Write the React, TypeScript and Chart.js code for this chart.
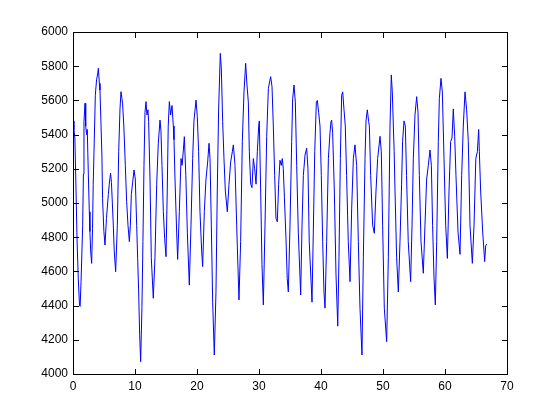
import React, { useEffect, useRef } from "react";
import { Chart, registerables } from "chart.js";

Chart.register(...registerables);

const xValues = [
  0.0, 0.15, 0.3, 0.45, 0.65, 0.85, 1.05, 1.15, 1.3, 1.56, 1.68, 1.77, 1.94, 2.05, 2.2, 2.3, 2.47, 2.63, 2.73, 2.85,
  3.01, 3.15, 3.26, 3.42, 3.6, 3.8, 4.0, 4.09, 4.25, 4.35, 4.5, 4.66, 4.77, 4.98, 5.16, 5.4, 5.7, 5.85, 6.06, 6.2,
  6.5, 6.65, 6.88, 7.15, 7.37, 7.58, 7.74, 7.9, 8.0, 8.2, 8.44, 8.65, 8.87, 9.09, 9.25, 9.41, 9.62, 9.84, 10.05, 10.27,
  10.43, 10.59, 10.75, 10.91, 11.12, 11.28, 11.45, 11.61, 11.77, 11.93, 12.09, 12.2, 12.42, 12.63, 12.95, 13.22, 13.5, 13.76, 14.03, 14.19,
  14.35, 14.57, 14.78, 15.0, 15.2, 15.36, 15.54, 15.75, 15.97, 16.18, 16.29, 16.45, 16.72, 16.88, 17.15, 17.42, 17.6, 17.8, 17.96, 18.2,
  18.44, 18.76, 19.03, 19.3, 19.51, 19.84, 20.05, 20.26, 20.48, 20.75, 20.91, 21.18, 21.45, 21.72, 21.94, 22.1, 22.31, 22.53, 22.79, 23.06,
  23.27, 23.49, 23.76, 23.92, 24.14, 24.35, 24.57, 24.89, 25.16, 25.43, 25.7, 25.86, 26.13, 26.4, 26.77, 27.04, 27.31, 27.58, 27.85, 28.06,
  28.28, 28.44, 28.66, 28.87, 29.09, 29.3, 29.52, 29.73, 29.95, 30.05, 30.27, 30.48, 30.7, 30.97, 31.24, 31.51, 31.88, 32.1, 32.31, 32.53,
  32.74, 32.95, 33.17, 33.38, 33.6, 33.76, 33.92, 34.1, 34.35, 34.55, 34.73, 35.0, 35.27, 35.43, 35.65, 35.86, 36.08, 36.34, 36.72, 36.94,
  37.15, 37.42, 37.69, 37.9, 38.1, 38.55, 38.76, 38.99, 39.25, 39.41, 39.62, 39.84, 40.05, 40.27, 40.48, 40.65, 40.91, 41.19, 41.45, 41.61,
  41.72, 41.88, 42.15, 42.42, 42.7, 42.9, 43.12, 43.33, 43.5, 43.71, 43.92, 44.13, 44.4, 44.68, 44.95, 45.22, 45.48, 45.75, 46.02, 46.29,
  46.61, 46.83, 47.1, 47.26, 47.47, 47.69, 47.8, 48.01, 48.33, 48.6, 48.87, 49.14, 49.52, 49.73, 49.94, 50.21, 50.59, 50.86, 51.13, 51.34,
  51.5, 51.67, 51.8, 51.94, 52.2, 52.47, 52.74, 53.0, 53.16, 53.39, 53.6, 53.8, 54.07, 54.46, 54.68, 54.89, 55.16, 55.43, 55.65, 55.86,
  56.13, 56.5, 56.77, 57.04, 57.31, 57.58, 57.8, 58.0, 58.23, 58.44, 58.66, 58.92, 59.09, 59.35, 59.57, 59.84, 60.11, 60.38, 60.65, 60.91,
  61.13, 61.34, 61.56, 61.77, 62.1, 62.42, 62.69, 62.95, 63.23, 63.49, 63.76, 64.03, 64.41, 64.68, 64.97, 65.22, 65.43, 65.54, 65.75, 66.08,
  66.4, 66.56, 66.72,
];

const yValues = [
  5480, 5430, 5380, 5140, 4790, 4560, 4400, 4395, 4540, 4870, 5170, 5476, 5583, 5450, 5400, 5430, 5170, 4949, 4833, 4720,
  4647, 4850, 5110, 5350, 5630, 5720, 5760, 5788, 5700, 5660, 5480, 5280, 5025, 4833, 4754, 4910, 5050, 5110, 5174, 5120,
  4870, 4720, 4598, 4870, 5300, 5550, 5651, 5610, 5580, 5450, 5220, 5010, 4870, 4774, 4870, 5050, 5120, 5193, 5140, 4870,
  4676, 4480, 4230, 4072, 4390, 4775, 5220, 5530, 5593, 5515, 5545, 5476, 5140, 4680, 4443, 4680, 5110, 5350, 5485, 5420,
  5220, 4950, 4794, 4686, 5070, 5450, 5593, 5515, 5570, 5450, 5370, 5140, 4830, 4670, 4950, 5260, 5220, 5310, 5388, 5160,
  4830, 4520, 4870, 5260, 5480, 5602, 5505, 5300, 4950, 4720, 4628, 4950, 5140, 5240, 5349, 5260, 4870, 4420, 4111, 4480,
  5070, 5550, 5875, 5790, 5476, 5260, 5070, 4949, 5110, 5240, 5300, 5340, 5220, 4870, 4433, 4775, 5360, 5650, 5817, 5690,
  5590, 5300, 5110, 5090, 5260, 5200, 5110, 5300, 5450, 5480, 5070, 4640, 4404, 4870, 5390, 5670, 5739, 5680, 5450, 5160,
  4910, 4890, 5110, 5250, 5220, 5260, 5200, 5030, 4794, 4560, 4480, 4870, 5360, 5610, 5690, 5590, 5220, 4830, 4462, 4870,
  5160, 5280, 5320, 5200, 4775, 4420, 4830, 5300, 5590, 5600, 5530, 5450, 5160, 4775, 4480, 4385, 4775, 5260, 5410, 5476,
  5485, 5410, 5070, 4580, 4280, 4680, 5260, 5630, 5650, 5545, 5450, 5160, 4775, 4540, 4970, 5260, 5340, 5220, 4775, 4385,
  4111, 4680, 5260, 5480, 5545, 5476, 5450, 5160, 4870, 4823, 5070, 5260, 5390, 5300, 4870, 4385, 4189, 4680, 5450, 5749,
  5650, 5450, 5300, 5070, 4680, 4480, 4775, 5110, 5360, 5480, 5450, 5160, 4775, 4540, 4870, 5260, 5515, 5622, 5530, 5160,
  4775, 4589, 4870, 5140, 5220, 5310, 5220, 4870, 4560, 4404, 4775, 5360, 5610, 5729, 5650, 5260, 4870, 4676, 5070, 5360,
  5380, 5550, 5390, 5160, 4830, 4700, 5160, 5450, 5650, 5545, 5360, 4870, 4647, 4870, 5260, 5300, 5430, 5300, 5070, 4830,
  4657, 4750, 4760,
];

const xTicks = [0, 10, 20, 30, 40, 50, 60, 70];
const yTicks = [4000, 4200, 4400, 4600, 4800, 5000, 5200, 5400, 5600, 5800, 6000];

const FONT = { family: "'Liberation Sans', Arial, Helvetica, sans-serif", size: 12 };

function drawBox(chart: any) {
  const ctx = chart.ctx;
  const a = chart.chartArea;
  const sx = chart.scales.x;
  const sy = chart.scales.y;
  const L = Math.round(a.left);
  const R = Math.round(a.right);
  const T = Math.round(a.top);
  const B = Math.round(a.bottom);
  const len = 5;
  ctx.save();
  ctx.globalAlpha = 1;
  ctx.globalCompositeOperation = "source-over";
  ctx.fillStyle = "#000000";
  // frame
  ctx.fillRect(L, T, R - L + 1, 1);
  ctx.fillRect(L, B, R - L + 1, 1);
  ctx.fillRect(L, T, 1, B - T + 1);
  ctx.fillRect(R, T, 1, B - T + 1);
  // inward ticks
  for (const v of xTicks) {
    const p = Math.round(sx.getPixelForValue(v));
    ctx.fillRect(p, B - len, 1, len);
    ctx.fillRect(p, T + 1, 1, len);
  }
  for (const v of yTicks) {
    const p = Math.round(sy.getPixelForValue(v));
    ctx.fillRect(L + 1, p, len, 1);
    ctx.fillRect(R - len, p, len, 1);
  }
  ctx.restore();
}

const boxTicks = {
  id: "boxTicks",
  afterDraw: (chart: any) => {
    drawBox(chart);
  },
};

export default function App() {
  const canvasRef = useRef<HTMLCanvasElement | null>(null);

  useEffect(() => {
    if (!canvasRef.current) return;
    const data = xValues.map((x, i) => ({ x, y: yValues[i] }));
    const chart = new Chart(canvasRef.current, {
      type: "line",
      data: {
        datasets: [
          { data, borderColor: "#0000ff", borderWidth: 1, pointRadius: 0, tension: 0, fill: false },
        ],
      },
      options: {
        animation: false,
        responsive: false,
        devicePixelRatio: 1,
        layout: { padding: { top: 32, right: 53, left: 0, bottom: 0 } },
        plugins: { legend: { display: false }, tooltip: { enabled: false } },
        scales: {
          x: {
            type: "linear",
            min: 0,
            max: 70,
            grid: { display: false, drawTicks: false },
            border: { display: false },
            afterBuildTicks: (s: any) => {
              s.ticks = xTicks.map((v) => ({ value: v }));
            },
            afterFit: (s: any) => {
              s.height = 46;
            },
            ticks: {
              color: "#000000",
              font: FONT,
              padding: 5,
              maxRotation: 0,
              autoSkip: false,
              callback: (v: any) => String(v),
            },
          },
          y: {
            type: "linear",
            min: 4000,
            max: 6000,
            grid: { display: false, drawTicks: false },
            border: { display: false },
            afterBuildTicks: (s: any) => {
              s.ticks = yTicks.map((v) => ({ value: v }));
            },
            afterFit: (s: any) => {
              s.width = 73;
            },
            ticks: {
              color: "#000000",
              font: FONT,
              padding: 5,
              autoSkip: false,
              callback: (v: any) => String(v),
            },
          },
        },
      },
      plugins: [boxTicks],
    });
    return () => chart.destroy();
  }, []);

  return (
    <div style={{ position: "absolute", left: 0, top: 0, width: 560, height: 420, background: "#ffffff" }}>
      <canvas ref={canvasRef} width={560} height={420} />
    </div>
  );
}
